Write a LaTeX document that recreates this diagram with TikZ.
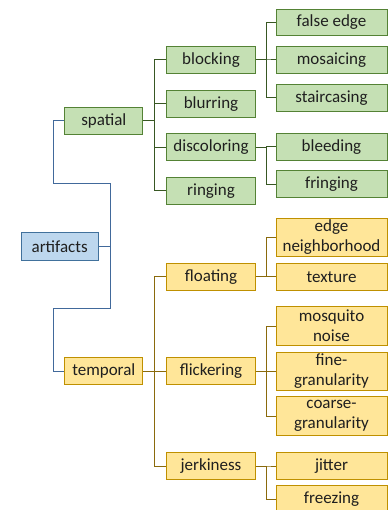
\documentclass[tikz,border=0pt]{standalone}
\usepackage{fontspec}
\setmainfont{Carlito}
\usetikzlibrary{calc}
\definecolor{gfill}{HTML}{C5E0B4}
\definecolor{gdraw}{HTML}{548235}
\definecolor{gline}{HTML}{385723}
\definecolor{bfill}{HTML}{BDD7EE}
\definecolor{bdraw}{HTML}{41719C}
\definecolor{bline}{HTML}{41699B}
\definecolor{yfill}{HTML}{FFE699}
\definecolor{ydraw}{HTML}{BF9000}
\definecolor{yline}{HTML}{8A6A0C}
\tikzset{
  x=1pt, y=-1pt,
  box/.style={rectangle, line width=1pt, inner sep=0pt, align=center,
    font=\fontsize{17}{20}\selectfont, text=black!88},
  g/.style={box, fill=gfill, draw=gdraw},
  bl/.style={box, fill=bfill, draw=bdraw},
  ye/.style={box, fill=yfill, draw=ydraw},
  c1/.style={minimum width=77.7pt, minimum height=27pt},
  c2/.style={minimum width=88.6pt, minimum height=26.7pt},
  c3/.style={minimum width=111pt, minimum height=26.7pt},
  c3b/.style={minimum width=111pt, minimum height=38.6pt},
  glink/.style={draw=gline, line width=1pt},
  ylink/.style={draw=yline, line width=1pt},
  blink/.style={draw=bline, line width=1pt},
}
\begin{document}
\begin{tikzpicture}
\useasboundingbox (0,0) rectangle (390,510);
% root
\node[bl, minimum width=77.3pt, minimum height=27.7pt] (art) at (59.7,246.2) {artifacts};
% spatial branch
\node[g, c1] (spa) at (103.8,121) {spatial};
\node[g, c2] (blo) at (211,60) {blocking};
\node[g, c2] (blu) at (211,103.7) {blurring};
\node[g, c2] (dis) at (211,147.3) {discoloring};
\node[g, c2] (rin) at (211,190.8) {ringing};
\node[g, c3] (fal) at (331.5,22.5) {false edge};
\node[g, c3] (mos) at (331.5,60) {mosaicing};
\node[g, c3] (sta) at (331.5,97.7) {staircasing};
\node[g, c3] (ble) at (331.5,147) {bleeding};
\node[g, c3] (fri) at (331.5,184.3) {fringing};
% temporal branch
\node[ye, c1] (tem) at (103.8,371.3) {temporal};
\node[ye, c2] (flo) at (211,276.7) {floating};
\node[ye, c2] (fli) at (211,371.3) {flickering};
\node[ye, c2] (jer) at (211,466) {jerkiness};
\node[ye, c3b] (edg) at (331.5,237.5) {edge\\neighborhood};
\node[ye, c3] (tex) at (331.5,276.7) {texture};
\node[ye, c3b] (msq) at (331.5,326.2) {mosquito\\noise};
\node[ye, c3b] (fin) at (331.5,371.5) {fine-\\granularity};
\node[ye, c3b] (coa) at (331.5,416) {coarse-\\granularity};
\node[ye, c3] (jit) at (331.5,466) {jitter};
\node[ye, c3] (fre) at (331.5,499.3) {freezing};
% blue connectors
\coordinate (b1) at (53.3,183.3);
\coordinate (b2) at (110,183.3);
\coordinate (b3) at (110,308.3);
\coordinate (b4) at (53.3,308.3);
\draw[blink] (spa.west) -| (b1) -- (b2) -- (b3) -- (b4) |- (tem.west);
\draw[blink] (art.east) -- (art.east -| b2);
% green connectors
\foreach \c in {blo,blu,dis,rin} \draw[glink] (spa.east) -- ++(11.3,0) |- (\c.west);
\foreach \c in {fal,mos,sta} \draw[glink] (blo.east) -- ++(10.4,0) |- (\c.west);
\foreach \c in {ble,fri} \draw[glink] (dis.east) -- ++(10.4,0) |- (\c.west);
% yellow connectors
\foreach \c in {flo,fli,jer} \draw[ylink] (tem.east) -- ++(11.3,0) |- (\c.west);
\foreach \c in {edg,tex} \draw[ylink] (flo.east) -- ++(10.4,0) |- (\c.west);
\foreach \c in {msq,fin,coa} \draw[ylink] (fli.east) -- ++(10.4,0) |- (\c.west);
\foreach \c in {jit,fre} \draw[ylink] (jer.east) -- ++(10.4,0) |- (\c.west);
\end{tikzpicture}
\end{document}
